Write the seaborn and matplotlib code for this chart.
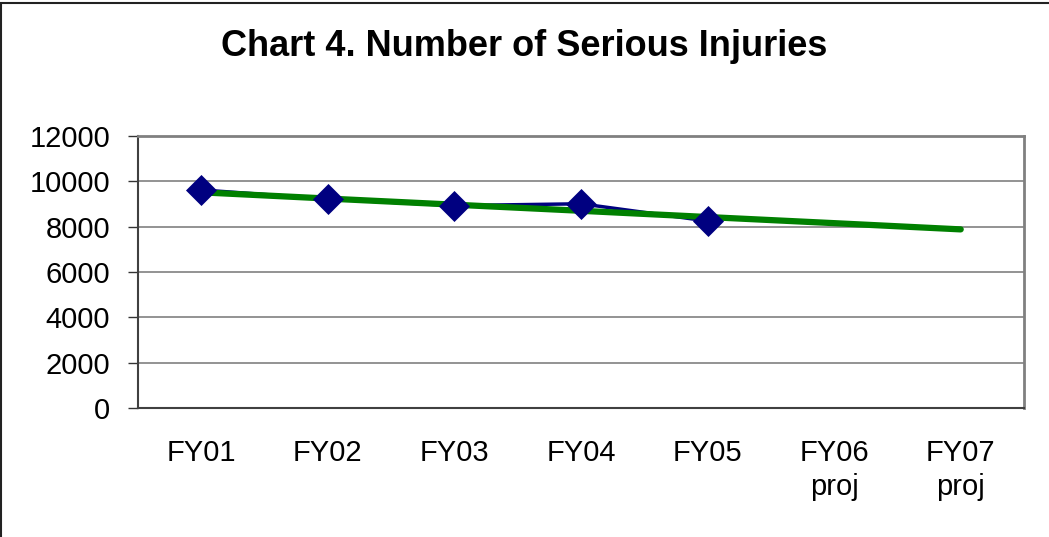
import matplotlib
matplotlib.use("Agg")
import matplotlib.pyplot as plt
import seaborn as sns
import pandas as pd
from matplotlib.patches import Rectangle

# values
years = ['FY01', 'FY02', 'FY03', 'FY04', 'FY05', 'FY06\nproj', 'FY07\nproj']
injuries = [9620, 9220, 8930, 9010, 8250]
trend = [9515, 9240, 8970, 8700, 8425, 8155, 7880]
y_ticks = [0, 2000, 4000, 6000, 8000, 10000, 12000]

actual = pd.DataFrame({'pos': range(len(injuries)), 'value': injuries})
trend_df = pd.DataFrame({'pos': range(len(trend)), 'value': trend})

sns.set_style('white')
plt.rcParams['font.family'] = ['Liberation Sans', 'DejaVu Sans']
plt.rcParams['text.color'] = 'black'
plt.rcParams['xtick.color'] = 'black'
plt.rcParams['ytick.color'] = 'black'

fig = plt.figure(figsize=(10.49, 5.37), dpi=100)
ax = fig.add_axes([138 / 1049, 1 - 408 / 537, (1024 - 138) / 1049, (408 - 136) / 537])

sns.lineplot(data=actual, x='pos', y='value', ax=ax, color='#000080',
             linewidth=2.5, zorder=3)
sns.lineplot(data=trend_df, x='pos', y='value', ax=ax, color='#008000',
             linewidth=4.5, solid_capstyle='round', zorder=4)
sns.scatterplot(data=actual, x='pos', y='value', ax=ax, color='#000080',
                marker='D', s=250, linewidth=0, zorder=5)

ax.set_xlim(-0.5, len(years) - 0.5)
ax.set_ylim(0, 12000)
ax.set_yticks(y_ticks)
ax.set_yticklabels([str(t) for t in y_ticks], fontsize=21)
ax.set_xticks(range(len(years)))
ax.set_xticklabels(years, fontsize=21, linespacing=1.3)
ax.set_xticks([i - 0.5 for i in range(len(years) + 1)], minor=True)
ax.tick_params(axis='x', which='major', length=0, pad=22)
ax.tick_params(axis='x', which='minor', length=7, width=1, color='#333333', direction='out')
ax.tick_params(axis='y', length=7, width=1, color='#333333', direction='out', left=True, pad=13)
ax.set_xlabel('')
ax.set_ylabel('')

ax.grid(axis='y', color='#808080', linewidth=1.2)
ax.set_axisbelow(True)
for side in ['top', 'right']:
    ax.spines[side].set_color('#808080')
    ax.spines[side].set_linewidth(2)
for side in ['left', 'bottom']:
    ax.spines[side].set_color('#404040')
    ax.spines[side].set_linewidth(1.5)

fig.text(0.5, 1 - 46 / 537, 'Chart 4. Number of Serious Injuries',
         ha='center', va='center', fontsize=26, fontweight='bold')

# outer chart border (only left and top visible in the reference)
fig.patches.append(Rectangle((1 / 1049, -0.1), 1.2, 1.1 - 3 / 537, transform=fig.transFigure,
                             fill=False, edgecolor='#222222', linewidth=1.5))

fig.savefig('out.png', dpi=100)
